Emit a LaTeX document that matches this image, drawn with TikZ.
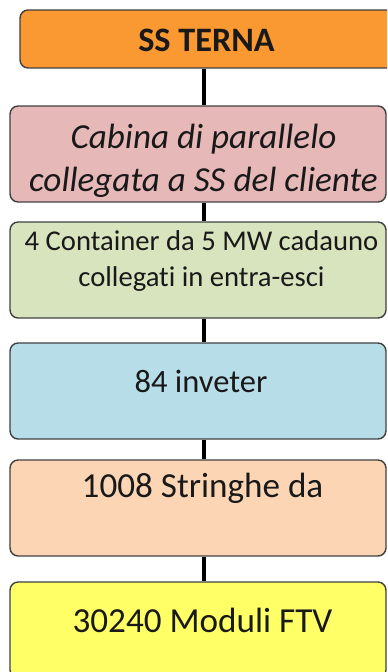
\documentclass[tikz,border=0pt]{standalone}
\usepackage{fontspec}
\setmainfont{Carlito}[Ligatures=NoCommon]
\usetikzlibrary{positioning}
\definecolor{cTerna}{RGB}{250,152,50}
\definecolor{cCabina}{RGB}{230,185,184}
\definecolor{cCont}{RGB}{215,228,189}
\definecolor{cInv}{RGB}{183,222,232}
\definecolor{cStr}{RGB}{252,213,181}
\definecolor{cMod}{RGB}{255,255,102}
\tikzset{blok/.style={draw=black!75,line width=0.8pt,rounded corners=0.16cm,
  minimum width=7.52cm,minimum height=1.92cm,inner sep=0pt},
  txt/.style={inner sep=0pt,align=center,text=black!90},
  conn/.style={line width=2.3pt,black}}

\begin{document}
\begin{tikzpicture}[x=0.02cm,y=-0.02cm]
\clip (0,0) rectangle (387,672);

\coordinate (stem) at (204,0);

\node[blok,fill=cTerna,minimum width=7.5cm,minimum height=1.16cm] (terna) at (207.5,39) {};
\node[blok,fill=cCabina] (cabina) at (198,154) {};
\node[blok,fill=cCont]   (cont)   at (198,270) {};
\node[blok,fill=cInv]    (inv)    at (198,391) {};
\node[blok,fill=cStr]    (str)    at (198,508) {};
\node[blok,fill=cMod]    (mod)    at (198,630) {};

\node[txt,anchor=base,font=\fontsize{19.5}{22}\selectfont\bfseries] (ternat) at (206.5,52) {SS TERNA};
\node[txt,font=\fontsize{20}{24.4}\selectfont\itshape] (cabinat) at (203.5,161) {Cabina di parallelo\\collegata a SS del cliente};
\node[txt,font=\fontsize{16.3}{21}\selectfont] (contt) at (201.5,261) {4 Container da 5 MW cadauno\\collegati in entra-esci};
\node[txt,anchor=base,font=\fontsize{18.5}{22}\selectfont] (invt) at (201,392) {84 inveter};
\node[txt,anchor=base,font=\fontsize{20}{22}\selectfont] (strt) at (202.5,497) {1008 Stringhe da};
\node[txt,anchor=base,font=\fontsize{20}{22}\selectfont] (modt) at (202.5,632) {30240 Moduli FTV};

\draw[conn] (terna.south -| stem) -- (cabina.north -| stem);
\draw[conn] (cabina.south -| stem) -- (cont.north -| stem);
\draw[conn] (cont.south -| stem) -- (inv.north -| stem);
\draw[conn] (inv.south -| stem) -- (str.north -| stem);
\draw[conn] (str.south -| stem) -- (mod.north -| stem);

\end{tikzpicture}
\end{document}
